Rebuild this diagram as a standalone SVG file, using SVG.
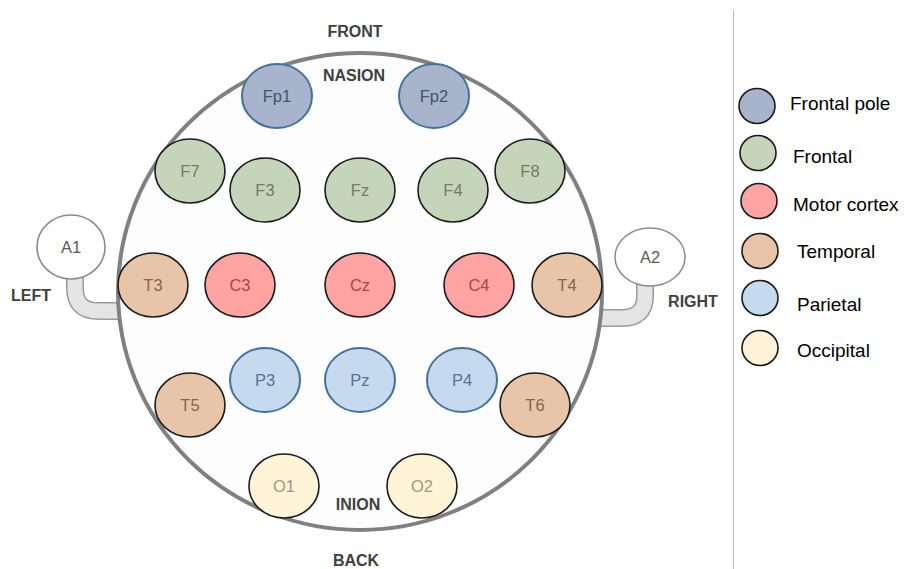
<svg xmlns="http://www.w3.org/2000/svg" width="912" height="569" viewBox="0 0 912 569">
<style>
.e{stroke:#1a1a1a;stroke-width:1.6}
.blu{stroke:#41719c;stroke-width:2}
.lbl{font-family:"Liberation Sans",Arial,sans-serif;font-size:16.5px;text-anchor:middle}
.big{font-family:"Liberation Sans",Arial,sans-serif;font-size:16px;font-weight:bold;fill:#404040;text-anchor:middle}
.leg{font-family:"Liberation Sans",Arial,sans-serif;font-size:19px;fill:#000}
.fp{fill:#a8b3cc}.fr{fill:#c5d5b9}.mc{fill:#ffa3a3}.tp{fill:#e8c5a9}.pa{fill:#c5daef}.oc{fill:#fff3d8}
.tfp{fill:#44546a}.tfr{fill:#6f7f62}.tmc{fill:#a84848}.ttp{fill:#86664f}.tpa{fill:#5b7291}.toc{fill:#9e9982}
.stemO{fill:none;stroke:#9a9a9a;stroke-width:18}
.stemI{fill:none;stroke:#e4e4e4;stroke-width:15}
</style>
<rect width="912" height="569" fill="#fff"/>
<line x1="733.5" y1="10" x2="733.5" y2="569" stroke="#bfbfbf" stroke-width="1.2"/>

<g id="ears">
<path class="stemO" d="M75 276 V288 Q75 311 98 311 H122"/>
<path class="stemI" d="M75 276 V288 Q75 311 98 311 H122"/>
<path class="stemO" d="M645 283 V296 Q645 318 622 318 H598"/>
<path class="stemI" d="M645 283 V296 Q645 318 622 318 H598"/>
</g>

<g id="head">
<ellipse cx="360" cy="291.5" rx="242" ry="238.5" fill="#fdfdfd" stroke="#808080" stroke-width="4"/>
</g>

<g id="A1"><ellipse cx="71" cy="247" rx="34" ry="32" fill="#fff" stroke="#8a8a8a" stroke-width="1.6"/><text class="lbl" x="71" y="253" fill="#595959">A1</text></g>
<g id="A2"><ellipse cx="650" cy="257" rx="35" ry="29" fill="#fff" stroke="#8a8a8a" stroke-width="1.6"/><text class="lbl" x="650" y="263" fill="#595959">A2</text></g>

<g id="Fp1"><ellipse class="fp blu" cx="277" cy="96" rx="35" ry="32"/><text class="lbl tfp" x="277" y="102">Fp1</text></g>
<g id="Fp2"><ellipse class="fp blu" cx="434" cy="96" rx="35" ry="32"/><text class="lbl tfp" x="434" y="102">Fp2</text></g>

<g id="F7"><ellipse class="fr e" cx="190" cy="171" rx="35" ry="32"/><text class="lbl tfr" x="190" y="177">F7</text></g>
<g id="F3"><ellipse class="fr e" cx="265" cy="190" rx="35" ry="32"/><text class="lbl tfr" x="265" y="196">F3</text></g>
<g id="Fz"><ellipse class="fr e" cx="360" cy="190" rx="35" ry="32"/><text class="lbl tfr" x="360" y="196">Fz</text></g>
<g id="F4"><ellipse class="fr e" cx="453" cy="190" rx="35" ry="32"/><text class="lbl tfr" x="453" y="196">F4</text></g>
<g id="F8"><ellipse class="fr e" cx="530" cy="171" rx="35" ry="32"/><text class="lbl tfr" x="530" y="177">F8</text></g>

<g id="T3"><ellipse class="tp e" cx="153" cy="285" rx="35" ry="32"/><text class="lbl ttp" x="153" y="291">T3</text></g>
<g id="C3"><ellipse class="mc e" cx="240" cy="285" rx="35" ry="32"/><text class="lbl tmc" x="240" y="291">C3</text></g>
<g id="Cz"><ellipse class="mc e" cx="360" cy="285" rx="35" ry="32"/><text class="lbl tmc" x="360" y="291">Cz</text></g>
<g id="C4"><ellipse class="mc e" cx="479" cy="285" rx="35" ry="32"/><text class="lbl tmc" x="479" y="291">C4</text></g>
<g id="T4"><ellipse class="tp e" cx="567" cy="285" rx="35" ry="32"/><text class="lbl ttp" x="567" y="291">T4</text></g>

<g id="P3"><ellipse class="pa blu" cx="265" cy="380" rx="35" ry="32"/><text class="lbl tpa" x="265" y="386">P3</text></g>
<g id="Pz"><ellipse class="pa blu" cx="360" cy="380" rx="35" ry="32"/><text class="lbl tpa" x="360" y="386">Pz</text></g>
<g id="P4"><ellipse class="pa blu" cx="462" cy="380" rx="35" ry="32"/><text class="lbl tpa" x="462" y="386">P4</text></g>
<g id="T5"><ellipse class="tp e" cx="190" cy="405" rx="35" ry="32"/><text class="lbl ttp" x="190" y="411">T5</text></g>
<g id="T6"><ellipse class="tp e" cx="535" cy="405" rx="35" ry="32"/><text class="lbl ttp" x="535" y="411">T6</text></g>

<g id="O1"><ellipse class="oc e" cx="284" cy="486" rx="35" ry="32"/><text class="lbl toc" x="284" y="492">O1</text></g>
<g id="O2"><ellipse class="oc e" cx="422" cy="486" rx="35" ry="32"/><text class="lbl toc" x="422" y="492">O2</text></g>

<g id="labels">
<text class="big" x="355" y="37">FRONT</text>
<text class="big" x="354" y="81">NASION</text>
<text class="big" x="31" y="301">LEFT</text>
<text class="big" x="693" y="307">RIGHT</text>
<text class="big" x="358" y="510">INION</text>
<text class="big" x="356" y="566">BACK</text>
</g>

<g id="legend">
<ellipse class="fp e" cx="757" cy="106" rx="18" ry="17.5"/><text class="leg" x="790" y="110">Frontal pole</text>
<ellipse class="fr e" cx="758" cy="153" rx="18" ry="17.5"/><text class="leg" x="793" y="163">Frontal</text>
<ellipse class="mc e" cx="759" cy="201" rx="18" ry="17.5"/><text class="leg" x="793" y="211">Motor cortex</text>
<ellipse class="tp e" cx="760" cy="251" rx="18" ry="17.5"/><text class="leg" x="797" y="258">Temporal</text>
<ellipse class="pa e" cx="760" cy="298" rx="18" ry="17.5"/><text class="leg" x="797" y="311">Parietal</text>
<ellipse class="oc e" cx="760" cy="348" rx="18" ry="17.5"/><text class="leg" x="797" y="357">Occipital</text>
</g>
</svg>
